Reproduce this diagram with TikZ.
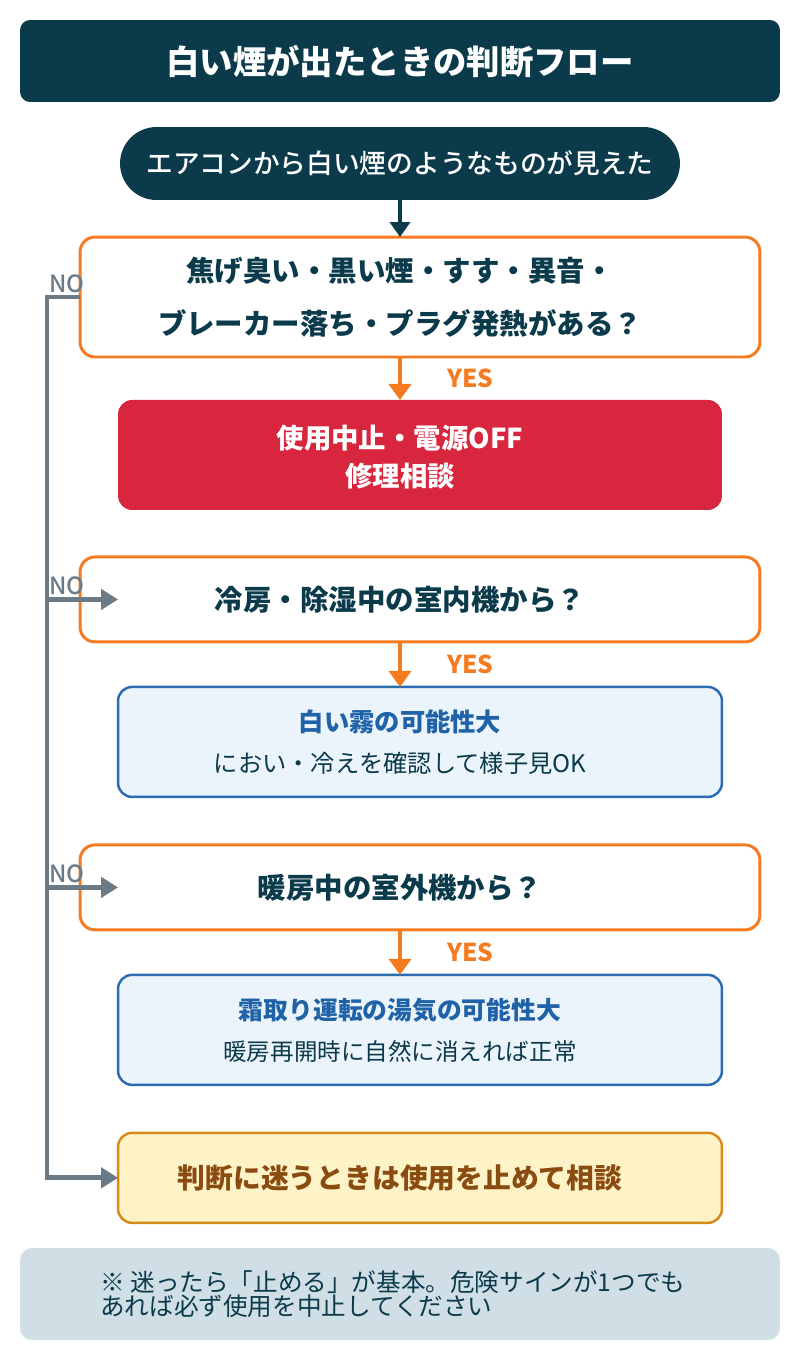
\documentclass[tikz,border=0pt]{standalone}
\usepackage{fontspec}
\setmainfont{Noto Sans CJK JP}
\newfontfamily\medfont{Noto Sans CJK JP Medium}
\usetikzlibrary{positioning,arrows.meta}
\definecolor{navy}{HTML}{0B3A4B}
\definecolor{flow}{HTML}{F47B20}
\definecolor{stopred}{HTML}{D7263D}
\definecolor{infoblue}{HTML}{2B6CB0}
\definecolor{infofill}{HTML}{EBF3FB}
\definecolor{infotext}{HTML}{1F62A8}
\definecolor{nogray}{HTML}{6C7A86}
\definecolor{askfill}{HTML}{FEF3C7}
\definecolor{askline}{HTML}{D9891A}
\definecolor{asktext}{HTML}{8A4B10}
\definecolor{notefill}{HTML}{D0DEE6}

\begin{document}
\begin{tikzpicture}[x=0.02cm,y=-0.02cm]
    \tikzstyle{titlebar}=[fill=navy, rounded corners=0.2cm, minimum width=15.2cm, minimum height=1.64cm, text=white, font=\bfseries\fontsize{19}{23}\selectfont, outer sep=0pt]
    \tikzstyle{startpill}=[fill=navy, rounded corners=0.73cm, minimum width=11.2cm, minimum height=1.46cm, text=white, font=\medfont\fontsize{15.2}{19}\selectfont, outer sep=0pt]
    \tikzstyle{qbox}=[draw=flow, line width=1.7pt, fill=white, rounded corners=0.3cm, minimum width=13.6cm, outer sep=0pt]
    \tikzstyle{qtext}=[text=navy, font=\bfseries\fontsize{16.2}{30}\selectfont, align=center, inner sep=0pt]
    \tikzstyle{stopbox}=[fill=stopred, rounded corners=0.28cm, minimum width=12.08cm, minimum height=2.2cm, outer sep=0pt]
    \tikzstyle{infobox}=[draw=infoblue, line width=1.4pt, fill=infofill, rounded corners=0.28cm, minimum width=12.08cm, minimum height=2.2cm, outer sep=0pt]
    \tikzstyle{askbox}=[draw=askline, line width=1.4pt, fill=askfill, rounded corners=0.28cm, minimum width=12.08cm, minimum height=1.8cm, outer sep=0pt]
    \tikzstyle{yesarrow}=[draw=flow, line width=2.4pt, -{Triangle[width=0.44cm,length=0.32cm]}]
    \tikzstyle{yeslabel}=[text=flow, font=\bfseries\fontsize{14}{16}\selectfont, anchor=west, xshift=0.9cm, inner sep=0pt]
    \tikzstyle{noline}=[draw=nogray, line width=2.7pt]
    \tikzstyle{nolabel}=[text=nogray, font=\medfont\fontsize{13.5}{15}\selectfont, anchor=south west, inner sep=1pt]

    \useasboundingbox (0,0) rectangle (800,1360);

    \node (Title) [titlebar] at (400,61) {白い煙が出たときの判断フロー};
    \node (Start) [startpill] at (400,163.5) {エアコンから白い煙のようなものが見えた};

    \node (Q1box) [qbox, minimum height=2.4cm] at (420,297) {};
    \node (Q1) [qtext, xshift=-0.4cm] at (Q1box) {焦げ臭い・黒い煙・すす・異音・\\ブレーカー落ち・プラグ発熱がある？};
    \node (Stopbox) [stopbox, below=0.86cm of Q1box] {};
    \node (Stop) [xshift=-0.4cm, yshift=-0.04cm, text=white, font=\bfseries\fontsize{15.6}{21.5}\selectfont, align=center, inner sep=0pt] at (Stopbox) {使用中止・電源OFF\\修理相談};

    \node (Q2box) [qbox, minimum height=1.7cm, below=0.94cm of Stopbox] {};
    \node (Q2) [qtext, xshift=-0.4cm] at (Q2box) {冷房・除湿中の室内機から？};
    \node (Fogbox) [infobox, below=0.9cm of Q2box] {};
    \node (Fog) [xshift=-0.4cm, text=navy, font=\fontsize{13.8}{23.3}\selectfont, align=center, inner sep=0pt] at (Fogbox) {{\color{infotext}\bfseries\fontsize{14.4}{23.3}\selectfont 白い霧の可能性大}\\におい・冷えを確認して様子見OK};

    \node (Q3box) [qbox, minimum height=1.7cm, below=0.96cm of Fogbox] {};
    \node (Q3) [qtext, xshift=-0.4cm] at (Q3box) {暖房中の室外機から？};
    \node (Steambox) [infobox, below=0.9cm of Q3box] {};
    \node (Steam) [xshift=-0.4cm, text=navy, font=\fontsize{13.4}{23.3}\selectfont, align=center, inner sep=0pt] at (Steambox) {{\color{infotext}\bfseries\fontsize{14.1}{23.3}\selectfont 霜取り運転の湯気の可能性大}\\暖房再開時に自然に消えれば正常};

    \node (Askbox) [askbox, below=0.96cm of Steambox] {};
    \node (Ask) [xshift=-0.4cm, text=asktext, font=\bfseries\fontsize{15.8}{19}\selectfont, inner sep=0pt] at (Askbox) {判断に迷うときは使用を止めて相談};

    \node (Notebox) [fill=notefill, rounded corners=0.24cm, minimum width=15.2cm, minimum height=1.84cm, outer sep=0pt] at (400,1294) {};
    \node (Note) [anchor=west, text=navy, font=\fontsize{14}{12.6}\selectfont, align=left, inner sep=0pt] at (100,1294) {※ 迷ったら「止める」が基本。危険サインが1つでも\\あれば必ず使用を中止してください};

    \draw [draw=navy, line width=2.4pt, -{Triangle[width=0.4cm,length=0.3cm]}] (Start.south) -- (Start.south |- Q1box.north);
    \draw [yesarrow] (Q1.south |- Q1box.south) -- node[yeslabel](Yes1){YES} (Q1.south |- Stopbox.north);
    \draw [yesarrow] (Q2.south |- Q2box.south) -- node[yeslabel](Yes2){YES} (Q2.south |- Fogbox.north);
    \draw [yesarrow] (Q3.south |- Q3box.south) -- node[yeslabel](Yes3){YES} (Q3.south |- Steambox.north);

    \coordinate (trunk) at (47,297);
    \draw [noline, -{Triangle[width=0.4cm,length=0.34cm]}] (Q1box.west) -- (trunk) |- (Askbox.west);
    \draw [noline, -{Triangle[width=0.4cm,length=0.34cm]}] (trunk |- Q2box.west) -- ([xshift=0.76cm]Q2box.west);
    \draw [noline, -{Triangle[width=0.4cm,length=0.34cm]}] (trunk |- Q3box.west) -- ([xshift=0.76cm]Q3box.west);
    \node (No1) [nolabel] at ([yshift=0.05cm]trunk) {NO};
    \node (No2) [nolabel] at ([yshift=0.05cm]trunk |- Q2box.west) {NO};
    \node (No3) [nolabel] at ([yshift=0.05cm]trunk |- Q3box.west) {NO};

\end{tikzpicture}
\end{document}
